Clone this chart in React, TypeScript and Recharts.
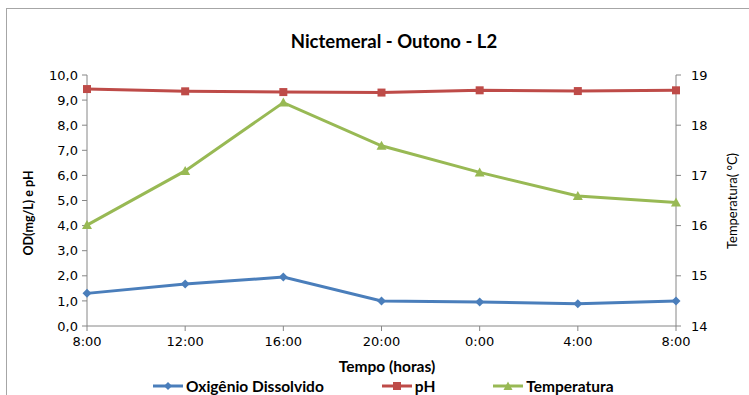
import { LineChart, Line, XAxis, YAxis } from 'recharts';

const horas = ['8:00', '12:00', '16:00', '20:00', '0:00', '4:00', '8:00'];
const oxigenio = [1.3, 1.67, 1.95, 1.0, 0.96, 0.89, 1.0];
const ph = [9.44, 9.35, 9.32, 9.3, 9.39, 9.36, 9.39];
const temperatura = [16.01, 17.09, 18.45, 17.59, 17.06, 16.59, 16.46];
const ticksEsq = [0, 1, 2, 3, 4, 5, 6, 7, 8, 9, 10];
const ticksDir = [14, 15, 16, 17, 18, 19];

const data = horas.map((h, i) => ({ hora: h, od: oxigenio[i], ph: ph[i], temp: temperatura[i] }));

const AZUL = '#4a7ebb';
const VERMELHO = '#be4b48';
const VERDE = '#98b954';
const EIXO = '#868686';
const fonteTitulo = 'Lato, "Open Sans", sans-serif';
const fonteTick = '"DejaVu Sans", sans-serif';

// marcadores no estilo do Excel
const Losango = (props: any) => {
  const { cx, cy } = props;
  if (cx == null || cy == null) return null;
  return <path d={`M${cx},${cy - 4.5}L${cx + 4.5},${cy}L${cx},${cy + 4.5}L${cx - 4.5},${cy}Z`} fill={AZUL} />;
};
const Quadrado = (props: any) => {
  const { cx, cy } = props;
  if (cx == null || cy == null) return null;
  return <rect x={cx - 4} y={cy - 4} width={8} height={8} fill={VERMELHO} />;
};
const Triangulo = (props: any) => {
  const { cx, cy } = props;
  if (cx == null || cy == null) return null;
  return <path d={`M${cx},${cy - 5}L${cx + 5},${cy + 4}L${cx - 5},${cy + 4}Z`} fill={VERDE} />;
};

const legenda = [
  { nome: 'Oxigênio Dissolvido', cor: AZUL, forma: 'losango' },
  { nome: 'pH', cor: VERMELHO, forma: 'quadrado' },
  { nome: 'Temperatura', cor: VERDE, forma: 'triangulo' },
];

function IconeLegenda({ cor, forma }: { cor: string; forma: string }) {
  return (
    <svg width={30} height={10} style={{ display: 'block' }}>
      <line x1={0} y1={5} x2={30} y2={5} stroke={cor} strokeWidth={3} />
      {forma === 'losango' && <path d="M15,1L19,5L15,9L11,5Z" fill={cor} />}
      {forma === 'quadrado' && <rect x={11} y={1} width={8} height={8} fill={cor} />}
      {forma === 'triangulo' && <path d="M15,0.5L19.5,9L10.5,9Z" fill={cor} />}
    </svg>
  );
}

const fmt = (v: number) => v.toFixed(1).replace('.', ',');

export default function App() {
  return (
    <div style={{ position: 'fixed', left: 0, top: 0, width: 749, height: 395, overflow: 'hidden', background: '#fff' }}>
      <div
        style={{
          position: 'absolute',
          left: 6,
          top: 8,
          width: 780,
          height: 420,
          border: '1px solid #a6a6a6',
        }}
      />
      <div
        style={{
          position: 'absolute',
          left: 0,
          width: 788,
          top: 30,
          textAlign: 'center',
          fontFamily: fonteTitulo,
          fontWeight: 700,
          fontSize: 18.5,
          color: '#000',
        }}
      >
        Nictemeral - Outono - L2
      </div>
      <div style={{ position: 'absolute', left: 0, top: 0 }}>
        <LineChart width={749} height={395} data={data} margin={{ top: 75, right: 28, left: 27, bottom: 39 }}>
          <XAxis
            dataKey="hora"
            stroke={EIXO}
            tickSize={5}
            tick={{ fill: '#000', fontSize: 13, fontFamily: fonteTick }}
            tickMargin={6}
            height={30}
          />
          <YAxis
            yAxisId="esq"
            domain={[0, 10]}
            ticks={ticksEsq}
            tickFormatter={fmt}
            stroke={EIXO}
            tickSize={5}
            tickMargin={4}
            width={60}
            tick={{ fill: '#000', fontSize: 13, fontFamily: fonteTick }}
          />
          <YAxis
            yAxisId="dir"
            orientation="right"
            domain={[14, 19]}
            ticks={ticksDir}
            stroke={EIXO}
            tickSize={5}
            tickMargin={10}
            width={45}
            tick={{ fill: '#000', fontSize: 13, fontFamily: fonteTick }}
          />
          <Line yAxisId="esq" dataKey="od" stroke={AZUL} strokeWidth={3} dot={<Losango />} activeDot={false} isAnimationActive={false} />
          <Line yAxisId="esq" dataKey="ph" stroke={VERMELHO} strokeWidth={3} dot={<Quadrado />} activeDot={false} isAnimationActive={false} />
          <Line yAxisId="dir" dataKey="temp" stroke={VERDE} strokeWidth={3} dot={<Triangulo />} activeDot={false} isAnimationActive={false} />
        </LineChart>
      </div>
      <div
        style={{
          position: 'absolute',
          left: 0,
          width: 774,
          top: 357,
          textAlign: 'center',
          fontFamily: fonteTitulo,
          fontWeight: 700,
          fontSize: 15.5,
        }}
      >
        Tempo (horas)
      </div>
      <div
        style={{
          position: 'absolute',
          left: 28,
          top: 213,
          transform: 'translate(-50%, -50%) rotate(-90deg)',
          whiteSpace: 'nowrap',
          fontFamily: fonteTitulo,
          fontWeight: 700,
          fontSize: 12.5,
        }}
      >
        OD(mg/L) e pH
      </div>
      <div
        style={{
          position: 'absolute',
          left: 732,
          top: 201,
          transform: 'translate(-50%, -50%) rotate(-90deg)',
          whiteSpace: 'nowrap',
          fontFamily: fonteTitulo,
          fontWeight: 400,
          fontSize: 13,
        }}
      >
        Temperatura( °C)
      </div>
      <div
        style={{
          position: 'absolute',
          left: 153,
          top: 377,
          height: 18,
          display: 'flex',
          alignItems: 'center',
          gap: 58,
          fontFamily: fonteTitulo,
          fontWeight: 700,
          fontSize: 15.5,
          lineHeight: '18px',
        }}
      >
        {legenda.map((l) => (
          <div key={l.nome} style={{ display: 'flex', alignItems: 'center', gap: 3 }}>
            <IconeLegenda cor={l.cor} forma={l.forma} />
            <span>{l.nome}</span>
          </div>
        ))}
      </div>
    </div>
  );
}
